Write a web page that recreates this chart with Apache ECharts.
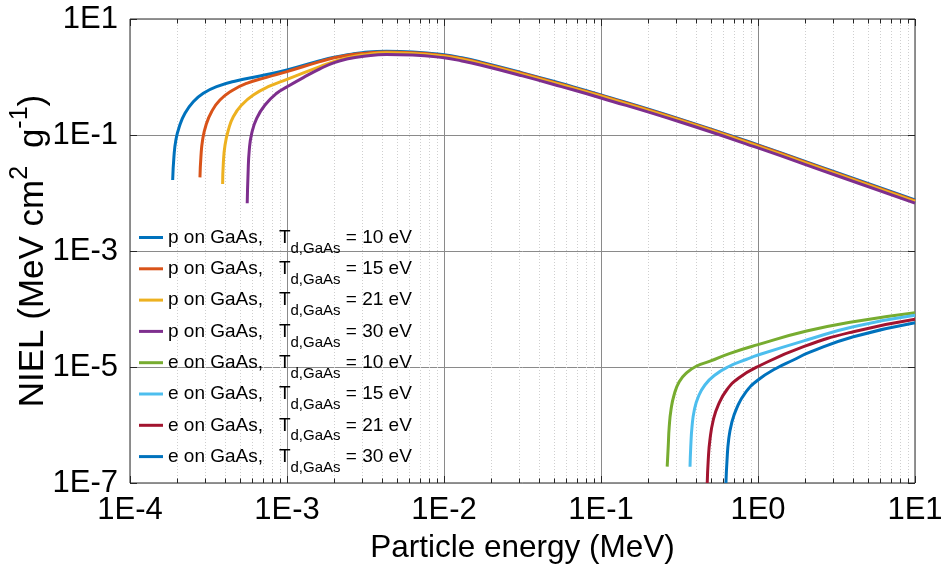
<!DOCTYPE html>
<html>
<head>
<meta charset="utf-8">
<script src="https://cdn.jsdelivr.net/npm/echarts@6/dist/echarts.min.js"></script>
<style>
html, body { margin: 0; padding: 0; background: #fff; }
#chart { width: 943px; height: 570px; }
</style>
</head>
<body>
<div id="chart"></div>
<script>
// energies in MeV, NIEL in MeV cm2 g-1
const pEnergy10 = [1.87e-4, 1.905e-4, 1.96e-4, 2.06e-4, 2.24e-4, 2.53e-4, 2.93e-4, 3.56e-4, 4.79e-4, 6.73e-4, 1.0e-3, 1.62e-3, 2.0e-3, 2.5e-3, 3.0e-3, 4.3e-3, 6.3e-3, 1.0e-2, 1.3e-2, 1.7e-2, 3.16e-2, 5.6e-2, 0.1, 0.316, 1, 3.16, 10];
const pNiel10   = [0.0168, 0.0423, 0.082, 0.139, 0.237, 0.375, 0.524, 0.681, 0.863, 1.04, 1.32, 1.91, 2.20, 2.45, 2.63, 2.78, 2.70, 2.41, 2.14, 1.82, 1.18, 0.771, 0.492, 0.19, 0.0676, 0.0226, 0.0076];

const pEnergy15 = [2.79e-4, 2.83e-4, 2.90e-4, 3.05e-4, 3.31e-4, 3.74e-4, 4.45e-4, 5.53e-4, 7.41e-4, 1.0e-3, 1.62e-3, 2.0e-3, 2.5e-3, 3.0e-3, 4.3e-3, 6.3e-3, 1.0e-2, 1.3e-2, 1.7e-2, 3.16e-2, 5.6e-2, 0.1, 0.316, 1, 3.16, 10];
const pNiel15   = [0.0186, 0.0423, 0.082, 0.149, 0.252, 0.401, 0.581, 0.778, 0.986, 1.24, 1.84, 2.14, 2.40, 2.55, 2.70, 2.63, 2.34, 2.08, 1.77, 1.15, 0.75, 0.479, 0.185, 0.0658, 0.022, 0.00738];

const pEnergy21 = [3.89e-4, 3.93e-4, 4.03e-4, 4.23e-4, 4.55e-4, 5.14e-4, 6.10e-4, 7.80e-4, 1.0e-3, 1.62e-3, 2.0e-3, 2.5e-3, 3.0e-3, 4.3e-3, 6.3e-3, 1.0e-2, 1.3e-2, 1.7e-2, 3.16e-2, 5.6e-2, 0.1, 0.316, 1, 3.16, 10];
const pNiel21   = [0.0143, 0.0325, 0.0673, 0.122, 0.207, 0.329, 0.49, 0.70, 0.912, 1.51, 1.86, 2.19, 2.39, 2.62, 2.55, 2.28, 2.02, 1.72, 1.11, 0.728, 0.465, 0.18, 0.0638, 0.0214, 0.00716];

const pEnergy30 = [5.58e-4, 5.65e-4, 5.75e-4, 5.96e-4, 6.41e-4, 7.24e-4, 8.6e-4, 1.0e-3, 1.27e-3, 1.62e-3, 2.0e-3, 2.5e-3, 3.0e-3, 4.3e-3, 6.3e-3, 1.0e-2, 1.3e-2, 1.7e-2, 3.16e-2, 5.6e-2, 0.1, 0.316, 1, 3.16, 10];
const pNiel30   = [0.00664, 0.0218, 0.055, 0.107, 0.194, 0.329, 0.524, 0.676, 0.977, 1.38, 1.77, 2.08, 2.25, 2.45, 2.40, 2.14, 1.89, 1.61, 1.045, 0.682, 0.435, 0.169, 0.0598, 0.0200, 0.00671];

const eEnergy10 = [0.264, 0.268, 0.272, 0.279, 0.292, 0.315, 0.352, 0.407, 0.495, 0.664, 1.0, 2.04, 4.05, 10];
const eNiel10   = [1.91e-7, 4.23e-7, 9.35e-7, 1.81e-6, 3.29e-6, 5.58e-6, 7.98e-6, 1.04e-5, 1.26e-5, 1.72e-5, 2.43e-5, 4.17e-5, 6.04e-5, 8.63e-5];

const eEnergy15 = [0.369, 0.373, 0.380, 0.393, 0.417, 0.459, 0.532, 0.647, 0.847, 1.0, 2.04, 4.05, 10];
const eNiel15   = [1.91e-7, 4.23e-7, 9.35e-7, 1.81e-6, 3.08e-6, 4.90e-6, 7.28e-6, 1.01e-5, 1.36e-5, 1.61e-5, 2.92e-5, 4.95e-5, 7.78e-5];

const eEnergy21 = [0.475, 0.482, 0.494, 0.519, 0.558, 0.632, 0.750, 1.0, 1.95, 4.05, 10];
const eNiel21   = [1.0e-7, 2.49e-7, 5.51e-7, 1.22e-6, 2.21e-6, 4.01e-6, 6.38e-6, 1.02e-5, 2.24e-5, 4.06e-5, 6.64e-5];

const eEnergy30 = [0.625, 0.635, 0.650, 0.679, 0.731, 0.826, 1.0, 1.31, 1.68, 2.14, 4.05, 10];
const eNiel30   = [1.0e-7, 2.49e-7, 5.51e-7, 1.07e-6, 1.94e-6, 3.52e-6, 5.97e-6, 9.5e-6, 1.32e-5, 1.80e-5, 3.33e-5, 5.81e-5];

const particles = ['p', 'p', 'p', 'p', 'e', 'e', 'e', 'e'];
const tdValues = [10, 15, 21, 30, 10, 15, 21, 30];
const colors = ['#0072BD', '#D95319', '#EDB120', '#7E2F8E', '#77AC30', '#4DBEEE', '#A2142F', '#0072BD'];
const energies = [pEnergy10, pEnergy15, pEnergy21, pEnergy30, eEnergy10, eEnergy15, eEnergy21, eEnergy30];
const niels = [pNiel10, pNiel15, pNiel21, pNiel30, eNiel10, eNiel15, eNiel21, eNiel30];

const xTickValues = [1e-4, 1e-3, 1e-2, 1e-1, 1e0, 1e1];
const yTickValues = [1e-7, 1e-5, 1e-3, 1e-1, 1e1];

const FONT = "'Liberation Sans', Arial, Helvetica, sans-serif";

let chart = echarts.init(document.getElementById('chart'));

function expLabel(v) {
  return '1E' + Math.round(Math.log10(v));
}

// minor gridlines 2..9 within each decade
let xMinor = [];
xTickValues.slice(0, -1).forEach((d) => {
  for (let k = 2; k <= 9; k++) xMinor.push(+(k * d).toPrecision(3));
});

// kind 0 = minor x line, 1 = major x tick, 2 = major y tick
let decor = xMinor.map((v) => [v, 1, 0])
  .concat(xTickValues.map((v) => [v, 1, 1]))
  .concat(yTickValues.map((v) => [1e-4, v, 2]));

function renderDecor(params, api) {
  const cs = params.coordSys;
  const top = cs.y, bottom = cs.y + cs.height, left = cs.x, right = cs.x + cs.width;
  const kind = api.value(2);
  const p = api.coord([api.value(0), api.value(1)]);
  const tick = { stroke: '#262626', lineWidth: 1 };
  if (kind === 2) {
    const y = Math.round(p[1]) + 0.5;
    return { type: 'group', children: [
      { type: 'line', shape: { x1: left, y1: y, x2: left + 7, y2: y }, style: tick },
      { type: 'line', shape: { x1: right, y1: y, x2: right - 7, y2: y }, style: tick }
    ] };
  }
  const x = Math.round(p[0]) + 0.5;
  const len = kind === 1 ? 7 : 4.5;
  const kids = [
    { type: 'line', shape: { x1: x, y1: top, x2: x, y2: top + len }, style: tick },
    { type: 'line', shape: { x1: x, y1: bottom, x2: x, y2: bottom - len }, style: tick }
  ];
  if (kind === 0) {
    kids.unshift({ type: 'line', shape: { x1: x, y1: top, x2: x, y2: bottom },
      style: { stroke: '#cfcfcf', lineWidth: 1, lineDash: [1, 2] } });
  }
  return { type: 'group', children: kids };
}

let names = particles.map((p, i) => p + ' on GaAs, Td,GaAs = ' + tdValues[i] + ' eV');

let series = [{
  type: 'custom',
  name: 'grid',
  renderItem: renderDecor,
  data: decor,
  encode: { x: 0, y: 1 },
  z: 1,
  silent: true,
  clip: false
}];

names.forEach((name, i) => {
  series.push({
    name: name,
    type: 'line',
    data: energies[i].map((e, j) => [e, niels[i][j]]),
    showSymbol: false,
    symbol: 'none',
    smooth: 0.5,
    color: colors[i],
    lineStyle: { width: 3, color: colors[i] },
    z: 3,
    clip: true
  });
});

let option = {
  animation: false,
  backgroundColor: '#fff',
  grid: {
    left: 130, right: 28, top: 19, bottom: 87,
    show: true, borderColor: '#262626', borderWidth: 1, backgroundColor: 'transparent',
    containLabel: false, outerBoundsMode: 'none'
  },
  legend: {
    data: names,
    orient: 'vertical',
    left: 139,
    top: 228,
    padding: 0,
    icon: 'rect',
    itemWidth: 24,
    itemHeight: 3,
    itemGap: 3.3,
    selectedMode: false,
    textStyle: {
      fontSize: 19, fontFamily: FONT, color: '#000',
      rich: {
        sub: { fontSize: 15, fontFamily: FONT, color: '#000', padding: [22, 0, 0, 0] }
      }
    },
    formatter: (name) => {
      const i = names.indexOf(name);
      return particles[i] + ' on GaAs,   T{sub|d,GaAs} = ' + tdValues[i] + ' eV';
    }
  },
  xAxis: {
    type: 'log',
    logBase: 10,
    min: 1e-4,
    max: 10,
    interval: 1,
    name: 'Particle energy (MeV)',
    nameLocation: 'middle',
    nameGap: 49,
    nameMoveOverlap: false,
    nameTextStyle: { fontSize: 31.5, fontFamily: FONT, color: '#000' },
    axisLine: { show: false },
    axisTick: { show: false },
    axisLabel: {
      fontSize: 31, fontFamily: FONT, color: '#000', margin: 12,
      showMinLabel: true, showMaxLabel: true,
      formatter: expLabel
    },
    splitLine: { show: true, lineStyle: { color: '#8a8a8a', width: 1 } },
    minorTick: { show: false },
    minorSplitLine: { show: false }
  },
  yAxis: {
    type: 'log',
    logBase: 10,
    min: 1e-7,
    max: 10,
    interval: 1,
    name: 'NIEL (MeV cm{sup|2}{gap| }g{sup|-1})',
    nameLocation: 'middle',
    nameRotate: 90,
    nameGap: 72,
    nameMoveOverlap: false,
    nameTextStyle: {
      fontSize: 35, fontFamily: FONT, color: '#000',
      rich: {
        sup: { fontSize: 25, fontFamily: FONT, color: '#000', padding: [0, 0, 25, 0] },
        gap: { fontSize: 35, fontFamily: FONT, color: '#000', padding: [0, 8, 0, 0] }
      }
    },
    axisLine: { show: false },
    axisTick: { show: false },
    axisLabel: {
      fontSize: 31, fontFamily: FONT, color: '#000', margin: 12,
      showMinLabel: true, showMaxLabel: true,
      formatter: (v) => {
        const e = Math.round(Math.log10(v));
        return Math.abs(e) % 2 === 1 ? '1E' + e : '';
      }
    },
    splitLine: { show: true, lineStyle: { color: ['#8a8a8a', 'rgba(0,0,0,0)'], width: 1 } }
  },
  series: series
};

chart.setOption(option);
window.onresize = () => {
  chart.resize();
};
</script>
</body>
</html>
